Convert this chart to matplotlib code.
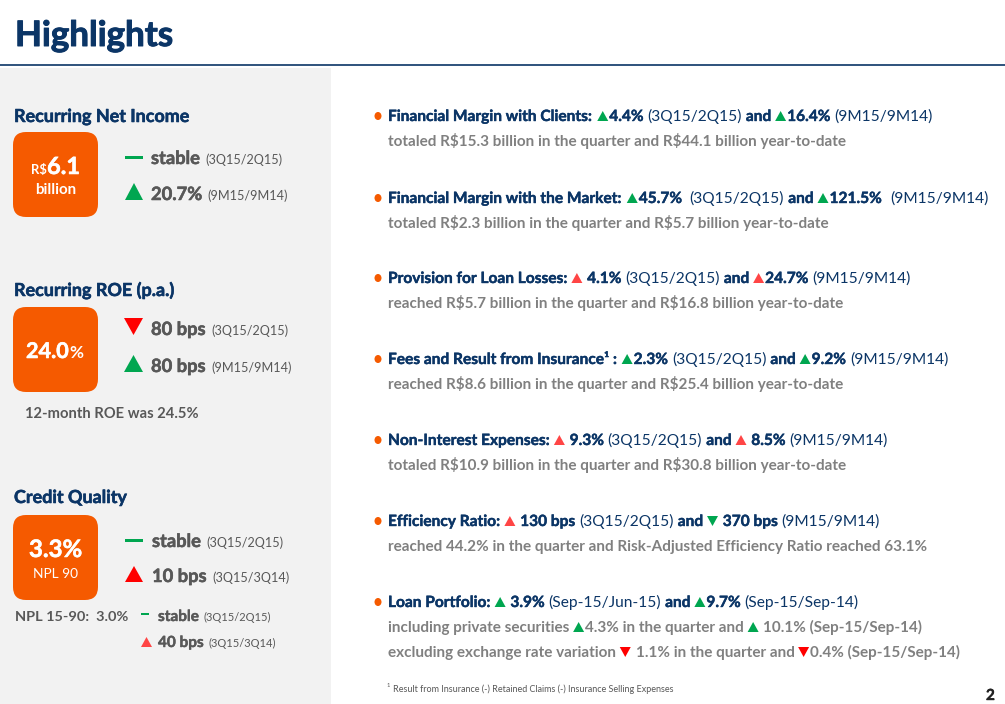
import matplotlib
matplotlib.use("Agg")
import matplotlib.pyplot as plt
import matplotlib.patheffects as pe
from matplotlib.patches import FancyBboxPatch, Rectangle, Polygon, Ellipse

plt.rcParams["text.parse_math"] = False

########################################## DATA ##########################################
FONT = "Lato"
NAVY = "#0b3566"
ORANGE = "#f55a00"
GRAY = "#808080"
DGRAY = "#585858"
GREEN = "#00a650"
RED = "#ff0000"
PINK = "#ff4545"
PANEL = "#f2f2f2"

title = "Highlights"

# left column: section headers, box values, changes
left_headers = ["Recurring Net Income", "Recurring ROE (p.a.)", "Credit Quality"]
net_income_changes = [("dash", "stable", "(3Q15/2Q15)"), ("up", "20.7%", "(9M15/9M14)")]
roe_changes = [("down", "80 bps", "(3Q15/2Q15)"), ("up", "80 bps", "(9M15/9M14)")]
npl90_changes = [("dash", "stable", "(3Q15/2Q15)"), ("upred", "10 bps", "(3Q15/3Q14)")]
npl1590_changes = [("dash", "stable", "(3Q15/2Q15)"), ("pink", "40 bps", "(3Q15/3Q14)")]
roe_note = "12-month ROE was 24.5%"
npl1590_label = "NPL 15-90:  3.0%"

# right column: headline runs and sub lines
# 'b' bold navy, 'r' regular navy, 's' grey sub text, ('U', colour) / ('D', colour) triangles
right_heads = [
    [("b", "Financial Margin with Clients: "), ("U", GREEN), ("b", "4.4% "), ("r", "(3Q15/2Q15) "),
     ("b", "and "), ("U", GREEN), ("b", "16.4% "), ("r", "(9M15/9M14)")],
    [("b", "Financial Margin with the Market: "), ("U", GREEN), ("b", "45.7%  "), ("r", "(3Q15/2Q15) "),
     ("b", "and "), ("U", GREEN), ("b", "121.5%  "), ("r", "(9M15/9M14)")],
    [("b", "Provision for Loan Losses: "), ("U", PINK), ("b", " 4.1% "), ("r", "(3Q15/2Q15) "),
     ("b", "and "), ("U", PINK), ("b", "24.7% "), ("r", "(9M15/9M14)")],
    [("b", "Fees and Result from Insurance\u00b9 : "), ("U", GREEN), ("b", "2.3% "), ("r", "(3Q15/2Q15) "),
     ("b", "and "), ("U", GREEN), ("b", "9.2% "), ("r", "(9M15/9M14)")],
    [("b", "Non-Interest Expenses: "), ("U", PINK), ("b", " 9.3% "), ("r", "(3Q15/2Q15) "),
     ("b", "and "), ("U", PINK), ("b", " 8.5% "), ("r", "(9M15/9M14)")],
    [("b", "Efficiency Ratio: "), ("U", PINK), ("b", " 130 bps "), ("r", "(3Q15/2Q15) "),
     ("b", "and "), ("D", GREEN), ("b", " 370 bps "), ("r", "(9M15/9M14)")],
    [("b", "Loan Portfolio: "), ("U", GREEN), ("b", " 3.9% "), ("r", "(Sep-15/Jun-15) "),
     ("b", "and "), ("U", GREEN), ("b", "9.7% "), ("r", "(Sep-15/Sep-14)")],
]
right_subs = [
    [[("s", "totaled R$15.3 billion in the quarter and R$44.1 billion year-to-date")]],
    [[("s", "totaled R$2.3 billion in the quarter and R$5.7 billion year-to-date")]],
    [[("s", "reached R$5.7 billion in the quarter and R$16.8 billion year-to-date")]],
    [[("s", "reached R$8.6 billion in the quarter and R$25.4 billion year-to-date")]],
    [[("s", "totaled R$10.9 billion in the quarter and R$30.8 billion year-to-date")]],
    [[("s", "reached 44.2% in the quarter and Risk-Adjusted Efficiency Ratio reached 63.1%")]],
    [[("s", "including private securities "), ("U", GREEN), ("s", "4.3% in the quarter and "), ("U", GREEN),
      ("s", " 10.1% (Sep-15/Sep-14)")],
     [("s", "excluding exchange rate variation "), ("D", RED), ("s", " 1.1% in the quarter and "), ("D", RED),
      ("s", "0.4% (Sep-15/Sep-14)")]],
]
footnote = "Result from Insurance (-) Retained Claims (-) Insurance Selling Expenses"
page_number = "2"
##########################################################################################

fig = plt.figure(figsize=(10.05, 7.04), dpi=100)
ax = fig.add_axes([0, 0, 1, 1])
ax.set_xlim(0, 1005)
ax.set_ylim(704, 0)
ax.axis("off")
renderer = fig.canvas.get_renderer()


def text_w(s, size, weight):
    t = ax.text(0, 0, s, fontsize=size, fontweight=weight, family=FONT)
    w = t.get_window_extent(renderer).width
    t.remove()
    return w


def fit(s, weight, target):
    return 10 * target / text_w(s, 10, weight)


def put(x, y, s, size, color, weight="normal", ha="left", stroke=0):
    t = ax.text(x, y, s, fontsize=size, color=color, fontweight=weight,
                ha=ha, va="baseline", family=FONT)
    if stroke:
        # thicken the strokes a little, the original face is heavier than Lato
        t.set_path_effects([pe.withStroke(linewidth=stroke, foreground=color)])
    return t


def triangle(x, y, w, h, color, up=True):
    if up:
        pts = [(x, y), (x + w, y), (x + w / 2, y - h)]
    else:
        pts = [(x, y - h), (x + w, y - h), (x + w / 2, y)]
    ax.add_patch(Polygon(pts, closed=True, facecolor=color, edgecolor="none"))


# background, title, rule
ax.add_patch(Rectangle((0, 68), 331, 640, facecolor=PANEL, edgecolor="none"))
ax.plot([0, 1005], [65, 65], color=NAVY, lw=1.2)
put(15, 46, title, fit(title, "bold", 158), NAVY, "bold", stroke=0.7)

# ---------------- right column ----------------
head_size = fit("Financial Margin with Clients:", "bold", 204)
sub_size = fit(right_subs[0][0][0][1], "bold", 459)
styles = {"b": (NAVY, "bold", head_size, 0.3), "r": (NAVY, "normal", head_size, 0),
          "s": (GRAY, "bold", sub_size, 0)}


def draw_run(x, y, parts, tri=10):
    for kind, val in parts:
        if kind in ("U", "D"):
            triangle(x, y, tri * 1.1, tri, val, up=(kind == "U"))
            x += tri * 1.1 + 1
            continue
        color, weight, size, stroke = styles[kind]
        sp = text_w("x x", size, weight) - text_w("xx", size, weight)
        lead = len(val) - len(val.lstrip(" "))
        trail = len(val) - len(val.rstrip(" "))
        x += lead * sp
        core = val.strip(" ")
        t = put(x, y, core, size, color, weight, stroke=stroke)
        x += t.get_window_extent(renderer).width + trail * sp
    return x


head_baselines = [121, 203, 283, 364, 445, 526, 607]
for base, head, subs in zip(head_baselines, right_heads, right_subs):
    ax.add_patch(Ellipse((378, base - 5), 7, 8, facecolor=ORANGE, edgecolor="none"))
    draw_run(388, base, head)
    for k, sub in enumerate(subs):
        draw_run(388, base + 25 * (k + 1), sub)

fn_size = fit(footnote, "normal", 280)
put(387, 687, "1", fn_size * 0.65, DGRAY)
put(393, 692, footnote, fn_size, DGRAY)
put(995, 700, page_number, 11, "#222222", "bold", ha="right", stroke=0.3)

# ---------------- left column ----------------
hdr_size = fit(left_headers[0], "bold", 176)
for y, h in zip([122, 296, 503], left_headers):
    put(14, y, h, hdr_size, NAVY, "bold", stroke=0.4)

for y0 in (132, 307, 515):
    ax.add_patch(FancyBboxPatch((13, y0), 85, 85, boxstyle="round,pad=0,rounding_size=13",
                                facecolor=ORANGE, edgecolor="none"))

# box 1
put(31, 174, "R$", fit("R$", "bold", 16), "white", "bold")
put(47, 174, "6.1", fit("6.1", "bold", 33), "white", "bold", stroke=0.4)
put(55.5, 194, "billion", fit("billion", "bold", 41), "white", "bold", ha="center")
# box 2
t24 = put(26, 358, "24.0", fit("24.0", "bold", 43), "white", "bold", stroke=0.4)
put(26 + t24.get_window_extent(renderer).width + 1, 358, "%", fit("%", "bold", 14), "white", "bold")
# box 3
put(55.5, 557, "3.3%", fit("3.3%", "bold", 53), "white", "bold", ha="center", stroke=0.4)
put(55.5, 578, "NPL 90", fit("NPL 90", "normal", 45), "white", "normal", ha="center")

val_size = fit("stable", "bold", 49)
per_size = fit("(3Q15/2Q15)", "normal", 77)


def change_rows(rows, baselines, xs, vsize, psize, tri_w, tri_h, dash_w, dash_t, stroke):
    for (kind, val, per), yb in zip(rows, baselines):
        if kind == "dash":
            ax.add_patch(Rectangle((xs[0], yb - 7 - dash_t / 2), dash_w, dash_t,
                                   facecolor=GREEN, edgecolor="none"))
        else:
            col = {"up": GREEN, "down": RED, "upred": RED, "pink": PINK}[kind]
            triangle(xs[0], yb, tri_w, tri_h, col, up=(kind != "down"))
        t = put(xs[1], yb, val, vsize, DGRAY, "bold", stroke=stroke)
        x2 = xs[1] + t.get_window_extent(renderer).width + 5
        put(x2, yb, per, psize, DGRAY, "normal")


change_rows(net_income_changes, [164, 200], (125, 151), val_size, per_size, 18, 17, 18, 3, 0.4)
change_rows(roe_changes, [335, 372], (124, 151), val_size, per_size, 19, 17, 18, 3, 0.4)
change_rows(npl90_changes, [547, 582], (125, 152), val_size, per_size, 18, 16, 18, 3, 0.4)
put(25, 418, roe_note, fit(roe_note, "bold", 173), DGRAY, "bold")
put(15, 621, npl1590_label, fit(npl1590_label, "bold", 113), DGRAY, "bold")
small_val = fit("stable", "bold", 41)
small_per = fit("(3Q15/2Q15)", "normal", 68)
change_rows(npl1590_changes, [621, 647], (141, 158), small_val, small_per, 11, 10, 8, 2, 0.3)

fig.savefig("out.png", dpi=100)
